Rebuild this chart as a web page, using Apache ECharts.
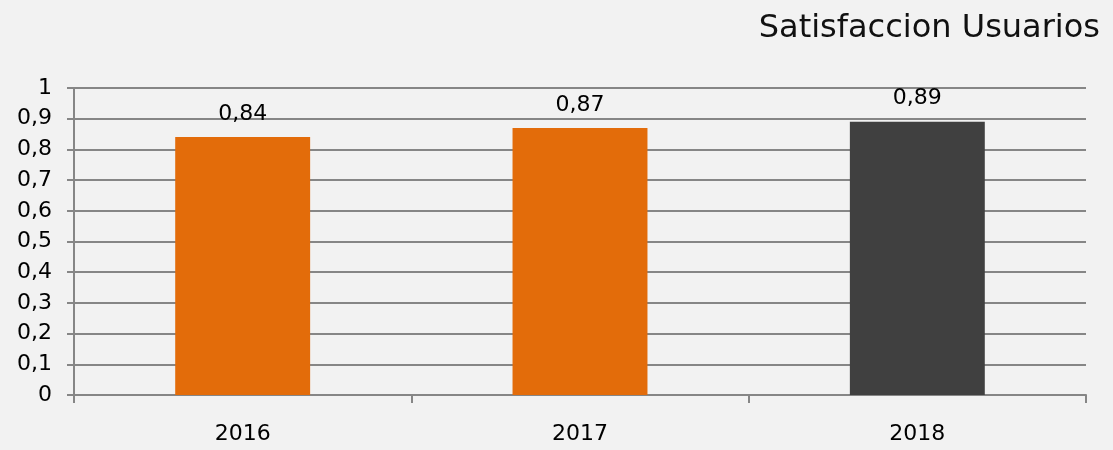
<!DOCTYPE html>
<html>
<head>
<meta charset="utf-8">
<script src="https://cdn.jsdelivr.net/npm/echarts@6/dist/echarts.min.js"></script>
<style>
  html, body { margin: 0; padding: 0; background: #f2f2f2; }
  #chart { width: 1113px; height: 450px; }
</style>
</head>
<body>
<div id="chart"></div>
<script>
const years = ["2016", "2017", "2018"];
const satisfaction = [0.84, 0.87, 0.89];
const barColors = ["#e36c0a", "#e36c0a", "#404040"];

const comma = (v) => String(v).replace(".", ",");
const font = "'DejaVu Sans', Verdana, sans-serif";

const chart = echarts.init(document.getElementById("chart"), null, { renderer: "canvas" });
chart.setOption({
  backgroundColor: "#f2f2f2",
  animation: false,
  title: {
    text: "Satisfaccion Usuarios",
    right: 8,
    top: 8,
    textStyle: { fontFamily: font, fontWeight: "normal", fontSize: 32, letterSpacing: 2.5, color: "#111" },
  },
  grid: { left: 74, right: 27, top: 88, bottom: 55 },
  xAxis: {
    type: "category",
    data: years,
    axisLine: { lineStyle: { color: "#868686", width: 2 } },
    axisTick: { show: true, length: 8, lineStyle: { color: "#868686", width: 2 } },
    axisLabel: { color: "#000", fontFamily: font, fontSize: 22, margin: 28 },
  },
  yAxis: {
    type: "value",
    min: 0,
    max: 1,
    interval: 0.1,
    axisLine: { show: true, lineStyle: { color: "#868686", width: 2 } },
    axisTick: { show: true, length: 7, lineStyle: { color: "#868686", width: 2 } },
    axisLabel: {
      color: "#000",
      fontFamily: font,
      fontSize: 22,
      margin: 22,
      formatter: (v) => comma(Math.round(v * 10) / 10),
    },
    splitLine: { lineStyle: { color: "#868686", width: 2 } },
  },
  series: [
    {
      type: "bar",
      barWidth: "40%",
      data: satisfaction.map((v, i) => ({ value: v, itemStyle: { color: barColors[i] } })),
      label: {
        show: true,
        position: "top",
        distance: 12,
        color: "#000",
        fontFamily: font,
        fontSize: 22,
        formatter: (p) => comma(p.value),
      },
    },
  ],
});
</script>
</body>
</html>
